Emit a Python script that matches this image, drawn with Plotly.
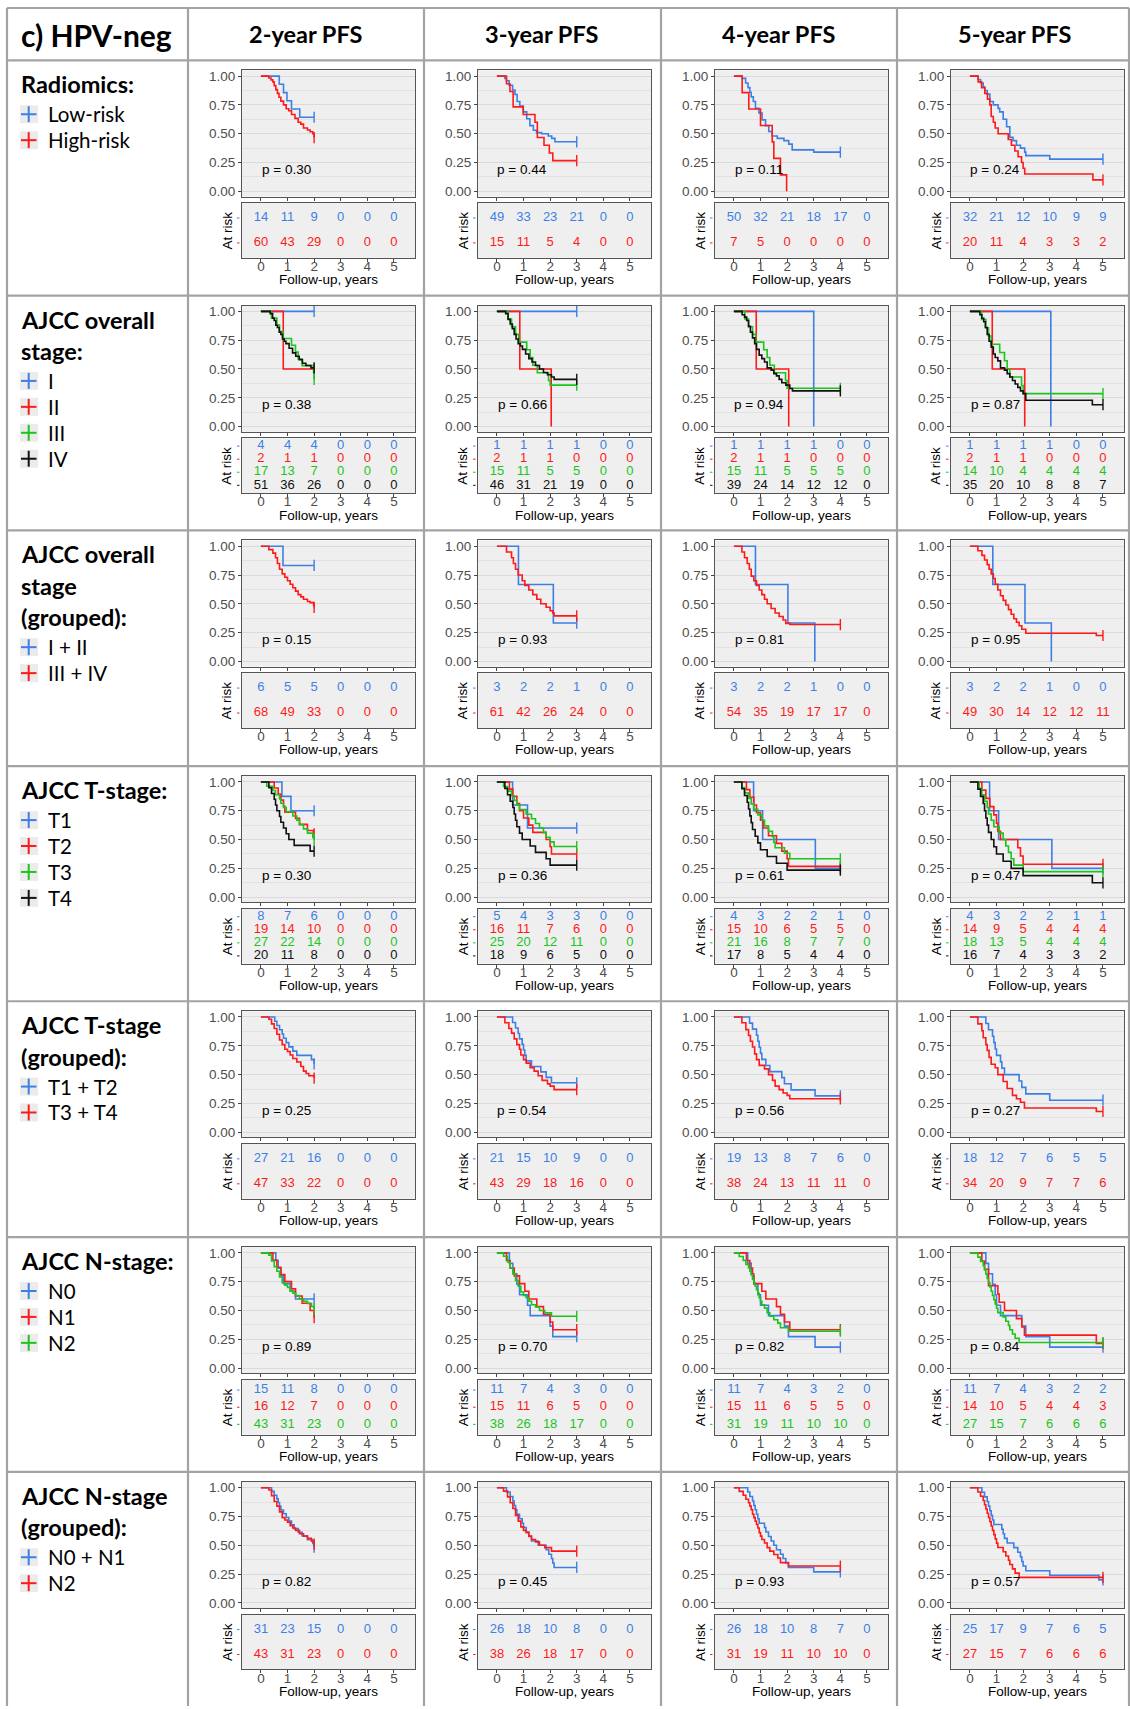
import plotly.graph_objects as go

W, H = 1130, 1709

# ---------------- DATA ----------------
# Kaplan-Meier step curves: (time in years, survival after the step)

# Row 1: Radiomics (Low-risk, High-risk)
rad_2y_low = [(0,1),(0.69,0.929),(0.85,0.857),(0.98,0.786),(1.15,0.714),(1.46,0.643),(2.0,0.643)]
rad_2y_high = [(0,1),(0.3,0.983),(0.38,0.967),(0.45,0.95),(0.5,0.917),(0.56,0.883),(0.62,0.85),(0.68,0.817),(0.75,0.783),(0.85,0.75),(0.95,0.717),(1.05,0.70),(1.15,0.667),(1.28,0.633),(1.4,0.60),(1.5,0.583),(1.6,0.55),(1.75,0.533),(1.85,0.517),(1.95,0.50),(2.0,0.467)]
rad_3y_low = [(0,1),(0.30,0.98),(0.36,0.96),(0.46,0.92),(0.59,0.88),(0.68,0.84),(0.76,0.78),(0.86,0.74),(0.99,0.69),(1.12,0.63),(1.24,0.57),(1.37,0.53),(1.49,0.51),(1.68,0.50),(1.93,0.48),(2.06,0.46),(2.18,0.43),(3.0,0.43)]
rad_3y_high = [(0,1),(0.36,0.933),(0.49,0.867),(0.61,0.733),(0.99,0.667),(1.43,0.60),(1.52,0.467),(1.77,0.40),(1.97,0.333),(2.1,0.267),(3.0,0.267)]
rad_4y_low = [(0,1),(0.31,0.98),(0.44,0.94),(0.53,0.90),(0.6,0.86),(0.65,0.82),(0.73,0.78),(0.81,0.72),(0.94,0.68),(1.06,0.62),(1.19,0.57),(1.31,0.52),(1.44,0.48),(1.63,0.46),(1.88,0.44),(2.06,0.41),(2.19,0.36),(3.0,0.34),(4.0,0.34)]
rad_4y_high = [(0,1),(0.31,0.857),(0.56,0.714),(1.0,0.571),(1.44,0.429),(1.5,0.286),(1.75,0.143),(1.98,0.0)]
rad_5y_low = [(0,1),(0.31,0.97),(0.4,0.94),(0.5,0.906),(0.56,0.875),(0.65,0.844),(0.75,0.78),(0.88,0.75),(1.06,0.72),(1.12,0.69),(1.25,0.625),(1.38,0.56),(1.5,0.47),(1.62,0.44),(1.75,0.40),(1.9,0.375),(2.06,0.34),(2.1,0.31),(3.0,0.28),(5.0,0.28)]
rad_5y_high = [(0,1),(0.31,0.95),(0.44,0.90),(0.56,0.85),(0.66,0.80),(0.75,0.75),(0.8,0.65),(0.88,0.60),(0.95,0.55),(1.06,0.50),(1.44,0.45),(1.56,0.40),(1.69,0.35),(1.81,0.30),(1.94,0.25),(2.0,0.20),(2.06,0.15),(4.62,0.10),(5.0,0.10)]

# Row 2: AJCC overall stage (I, II, III, IV)
os_2y_I = [(0,1),(2.0,1)]
os_2y_II = [(0,1),(0.84,0.5),(2.0,0.5)]
os_2y_III = [(0,1),(0.4,0.941),(0.6,0.882),(0.7,0.824),(0.84,0.765),(1.15,0.706),(1.3,0.647),(1.4,0.588),(1.55,0.529),(1.98,0.47),(2.0,0.41)]
os_2y_IV = [(0,1),(0.35,0.98),(0.44,0.94),(0.5,0.92),(0.56,0.88),(0.62,0.86),(0.69,0.82),(0.75,0.80),(0.81,0.76),(0.88,0.74),(0.94,0.72),(1.06,0.68),(1.19,0.64),(1.31,0.61),(1.44,0.58),(1.56,0.55),(1.69,0.53),(1.88,0.51),(2.0,0.51)]
os_3y_I = [(0,1),(3.0,1)]
os_3y_II = [(0,1),(0.86,0.5),(2.04,0.0)]
os_3y_III = [(0,1),(0.41,0.933),(0.55,0.867),(0.7,0.80),(0.82,0.733),(1.12,0.667),(1.25,0.60),(1.35,0.533),(1.52,0.467),(1.94,0.40),(2.0,0.36),(3.0,0.36)]
os_3y_IV = [(0,1),(0.33,0.98),(0.42,0.93),(0.5,0.89),(0.58,0.85),(0.65,0.80),(0.72,0.76),(0.8,0.72),(0.88,0.70),(0.96,0.67),(1.08,0.63),(1.2,0.59),(1.32,0.56),(1.45,0.53),(1.6,0.50),(1.75,0.47),(1.9,0.45),(2.05,0.43),(2.15,0.41),(3.0,0.41)]
os_4y_I = [(0,1),(3.0,0.0)]
os_4y_II = [(0,1),(0.84,0.5),(2.06,0.0)]
os_4y_III = [(0,1),(0.41,0.933),(0.55,0.867),(0.7,0.80),(0.82,0.733),(1.12,0.667),(1.25,0.60),(1.35,0.533),(1.52,0.467),(1.94,0.40),(2.0,0.333),(4.0,0.333)]
os_4y_IV = [(0,1),(0.31,0.97),(0.4,0.95),(0.48,0.92),(0.55,0.87),(0.62,0.82),(0.7,0.77),(0.78,0.72),(0.85,0.67),(0.95,0.62),(1.05,0.59),(1.15,0.56),(1.25,0.51),(1.4,0.49),(1.5,0.46),(1.6,0.44),(1.7,0.41),(1.8,0.38),(1.95,0.36),(2.1,0.33),(2.2,0.31),(4.0,0.31)]
os_5y_I = [(0,1),(3.04,0.0)]
os_5y_II = [(0,1),(0.84,0.5),(2.06,0.0)]
os_5y_III = [(0,1),(0.44,0.929),(0.6,0.857),(0.7,0.786),(0.8,0.714),(1.12,0.643),(1.3,0.571),(1.4,0.50),(1.5,0.43),(1.94,0.357),(2.0,0.286),(5.0,0.286)]
os_5y_IV = [(0,1),(0.375,0.97),(0.45,0.94),(0.52,0.91),(0.58,0.86),(0.65,0.80),(0.72,0.74),(0.8,0.69),(0.88,0.63),(0.95,0.60),(1.05,0.57),(1.15,0.51),(1.3,0.49),(1.4,0.46),(1.5,0.43),(1.6,0.40),(1.7,0.37),(1.8,0.34),(1.9,0.31),(2.0,0.286),(2.1,0.229),(4.6,0.19),(5.0,0.19)]

# Row 3: AJCC overall stage grouped (I + II, III + IV)
osg_2y_a = [(0,1),(0.83,0.833),(2.0,0.833)]
osg_2y_b = [(0,1),(0.3,0.97),(0.45,0.94),(0.55,0.90),(0.62,0.85),(0.7,0.80),(0.8,0.76),(0.9,0.73),(1.0,0.70),(1.1,0.67),(1.2,0.64),(1.3,0.61),(1.4,0.58),(1.5,0.56),(1.6,0.54),(1.75,0.52),(1.85,0.51),(1.98,0.49),(2.0,0.47)]
osg_3y_a = [(0,1),(0.81,0.667),(2.12,0.333),(3.0,0.333)]
osg_3y_b = [(0,1),(0.36,0.95),(0.55,0.90),(0.62,0.85),(0.7,0.80),(0.8,0.75),(0.95,0.70),(1.05,0.66),(1.2,0.62),(1.35,0.58),(1.5,0.54),(1.65,0.50),(1.85,0.47),(2.0,0.44),(2.1,0.42),(2.15,0.395),(3.0,0.395)]
osg_4y_a = [(0,1),(0.81,0.667),(2.03,0.333),(3.04,0.0)]
osg_4y_b = [(0,1),(0.3,0.95),(0.4,0.90),(0.5,0.85),(0.58,0.80),(0.65,0.74),(0.75,0.70),(0.85,0.66),(0.95,0.62),(1.05,0.58),(1.15,0.54),(1.25,0.50),(1.4,0.46),(1.55,0.42),(1.7,0.39),(1.85,0.36),(1.95,0.33),(2.1,0.32),(4.0,0.32)]
osg_5y_a = [(0,1),(0.86,0.667),(2.07,0.333),(3.06,0.0)]
osg_5y_b = [(0,1),(0.3,0.96),(0.45,0.92),(0.55,0.88),(0.65,0.84),(0.72,0.80),(0.8,0.76),(0.88,0.72),(0.95,0.67),(1.05,0.62),(1.15,0.57),(1.25,0.53),(1.35,0.49),(1.45,0.45),(1.55,0.41),(1.65,0.37),(1.75,0.34),(1.85,0.31),(1.95,0.28),(2.1,0.245),(4.75,0.225),(5.0,0.225)]

# Row 4: AJCC T-stage (T1, T2, T3, T4)
t_2y_T1 = [(0,1),(0.79,0.875),(1.13,0.75),(2.0,0.75)]
t_2y_T2 = [(0,1),(0.5,0.947),(0.65,0.895),(0.75,0.842),(0.85,0.789),(0.9,0.737),(1.3,0.684),(1.45,0.632),(1.75,0.579),(1.97,0.55),(2.0,0.55)]
t_2y_T3 = [(0,1),(0.22,0.963),(0.45,0.926),(0.55,0.889),(0.7,0.852),(0.75,0.815),(0.85,0.778),(0.95,0.741),(1.2,0.704),(1.35,0.667),(1.45,0.63),(1.6,0.593),(1.75,0.556),(1.95,0.519),(2.0,0.50)]
t_2y_T4 = [(0,1),(0.3,0.95),(0.4,0.90),(0.5,0.85),(0.55,0.80),(0.6,0.75),(0.7,0.70),(0.75,0.65),(0.85,0.60),(0.95,0.55),(1.05,0.50),(1.25,0.45),(1.85,0.40),(2.0,0.40)]
t_3y_T1 = [(0,1),(0.59,0.8),(1.15,0.6),(3.0,0.6)]
t_3y_T2 = [(0,1),(0.47,0.9375),(0.6,0.875),(0.75,0.8125),(0.85,0.75),(1.0,0.6875),(1.2,0.625),(1.35,0.5625),(1.85,0.50),(2.0,0.4375),(2.05,0.375),(3.0,0.375)]
t_3y_T3 = [(0,1),(0.25,0.96),(0.4,0.92),(0.55,0.88),(0.65,0.84),(0.75,0.80),(0.85,0.76),(1.1,0.72),(1.3,0.68),(1.45,0.64),(1.6,0.60),(1.75,0.56),(1.85,0.52),(2.0,0.48),(2.15,0.44),(3.0,0.44)]
t_3y_T4 = [(0,1),(0.3,0.944),(0.4,0.889),(0.5,0.833),(0.6,0.778),(0.65,0.722),(0.7,0.667),(0.75,0.611),(0.85,0.556),(0.95,0.50),(1.25,0.444),(1.45,0.389),(1.85,0.333),(2.0,0.278),(3.0,0.278)]
t_4y_T1 = [(0,1),(0.74,0.75),(1.08,0.5),(3.06,0.25),(4.0,0.25)]
t_4y_T2 = [(0,1),(0.47,0.933),(0.6,0.867),(0.75,0.80),(0.85,0.733),(1.0,0.667),(1.1,0.60),(1.3,0.533),(1.6,0.467),(1.8,0.40),(2.0,0.333),(2.05,0.267),(4.0,0.267)]
t_4y_T3 = [(0,1),(0.3,0.952),(0.4,0.905),(0.55,0.857),(0.65,0.81),(0.75,0.762),(0.9,0.714),(1.05,0.667),(1.15,0.619),(1.3,0.571),(1.45,0.524),(1.5,0.476),(1.55,0.429),(1.9,0.381),(2.1,0.333),(4.0,0.333)]
t_4y_T4 = [(0,1),(0.3,0.941),(0.4,0.882),(0.5,0.824),(0.55,0.765),(0.6,0.706),(0.65,0.647),(0.7,0.588),(0.8,0.529),(0.9,0.471),(1.0,0.412),(1.25,0.353),(1.6,0.294),(2.0,0.235),(4.0,0.235)]
t_5y_T1 = [(0,1),(0.74,0.75),(1.08,0.5),(3.08,0.25),(5.0,0.25)]
t_5y_T2 = [(0,1),(0.45,0.929),(0.6,0.857),(0.75,0.786),(0.9,0.714),(1.0,0.643),(1.05,0.571),(1.15,0.50),(1.8,0.429),(1.9,0.357),(2.0,0.286),(5.0,0.286)]
t_5y_T3 = [(0,1),(0.35,0.944),(0.45,0.889),(0.55,0.833),(0.65,0.778),(0.7,0.722),(0.8,0.667),(0.9,0.611),(1.1,0.556),(1.25,0.50),(1.35,0.444),(1.45,0.389),(1.55,0.333),(1.65,0.278),(2.0,0.222),(5.0,0.222)]
t_5y_T4 = [(0,1),(0.3,0.9375),(0.4,0.875),(0.5,0.8125),(0.55,0.75),(0.6,0.6875),(0.65,0.625),(0.7,0.5625),(0.8,0.50),(0.9,0.4375),(1.0,0.375),(1.25,0.3125),(1.55,0.25),(2.0,0.1875),(4.6,0.125),(5.0,0.125)]

# Row 5: AJCC T-stage grouped (T1 + T2, T3 + T4)
tg_2y_a = [(0,1),(0.52,0.963),(0.6,0.926),(0.7,0.889),(0.8,0.852),(0.85,0.815),(0.95,0.778),(1.05,0.741),(1.2,0.704),(1.35,0.667),(1.9,0.63),(2.0,0.593)]
tg_2y_b = [(0,1),(0.3,0.98),(0.4,0.94),(0.5,0.90),(0.6,0.85),(0.7,0.80),(0.8,0.76),(0.9,0.72),(1.0,0.70),(1.1,0.67),(1.2,0.64),(1.35,0.61),(1.5,0.57),(1.6,0.53),(1.7,0.51),(1.8,0.49),(2.0,0.47)]
tg_3y_a = [(0,1),(0.59,0.952),(0.7,0.905),(0.8,0.857),(0.85,0.81),(0.95,0.762),(1.0,0.714),(1.05,0.667),(1.1,0.619),(1.3,0.571),(1.65,0.524),(1.85,0.476),(2.05,0.429),(3.0,0.429)]
tg_3y_b = [(0,1),(0.3,0.95),(0.45,0.90),(0.55,0.86),(0.65,0.81),(0.75,0.76),(0.85,0.72),(0.9,0.67),(1.0,0.63),(1.1,0.60),(1.25,0.56),(1.4,0.53),(1.55,0.49),(1.7,0.45),(1.9,0.42),(2.0,0.40),(2.15,0.37),(3.0,0.37)]
tg_4y_a = [(0,1),(0.59,0.947),(0.7,0.895),(0.85,0.842),(0.9,0.789),(0.95,0.737),(1.0,0.684),(1.05,0.632),(1.2,0.579),(1.35,0.526),(1.8,0.474),(1.9,0.421),(2.15,0.368),(3.05,0.316),(4.0,0.316)]
tg_4y_b = [(0,1),(0.3,0.95),(0.45,0.89),(0.55,0.84),(0.62,0.79),(0.7,0.74),(0.78,0.68),(0.85,0.63),(0.95,0.58),(1.15,0.55),(1.3,0.50),(1.45,0.45),(1.55,0.40),(1.7,0.37),(1.85,0.34),(2.0,0.32),(2.1,0.29),(4.0,0.29)]
tg_5y_a = [(0,1),(0.6,0.944),(0.7,0.889),(0.85,0.833),(0.9,0.778),(0.95,0.722),(1.0,0.667),(1.15,0.611),(1.2,0.556),(1.3,0.50),(1.85,0.444),(1.95,0.389),(2.1,0.333),(3.0,0.278),(5.0,0.278)]
tg_5y_b = [(0,1),(0.3,0.94),(0.45,0.88),(0.5,0.82),(0.6,0.76),(0.65,0.71),(0.72,0.65),(0.8,0.59),(0.95,0.56),(1.05,0.50),(1.25,0.44),(1.4,0.38),(1.6,0.32),(1.75,0.29),(1.9,0.26),(2.05,0.21),(4.75,0.18),(5.0,0.18)]

# Row 6: AJCC N-stage (N0, N1, N2)
n_2y_N0 = [(0,1),(0.56,0.933),(0.65,0.867),(0.75,0.80),(0.85,0.733),(1.1,0.667),(1.3,0.60),(2.0,0.60)]
n_2y_N1 = [(0,1),(0.45,0.9375),(0.6,0.875),(0.75,0.8125),(0.9,0.75),(1.15,0.6875),(1.3,0.625),(1.55,0.5625),(1.85,0.50),(2.0,0.4375)]
n_2y_N2 = [(0,1),(0.3,0.98),(0.4,0.93),(0.5,0.88),(0.6,0.84),(0.7,0.79),(0.8,0.74),(0.9,0.72),(1.0,0.70),(1.1,0.67),(1.2,0.65),(1.3,0.63),(1.45,0.60),(1.6,0.58),(1.75,0.56),(1.9,0.535),(2.0,0.51)]
n_3y_N0 = [(0,1),(0.47,0.909),(0.6,0.818),(0.75,0.727),(0.85,0.636),(1.15,0.545),(1.25,0.455),(2.0,0.364),(2.1,0.273),(3.0,0.273)]
n_3y_N1 = [(0,1),(0.36,0.933),(0.5,0.867),(0.65,0.80),(0.85,0.733),(1.05,0.667),(1.2,0.60),(1.5,0.533),(1.75,0.467),(2.0,0.40),(2.1,0.333),(3.0,0.333)]
n_3y_N2 = [(0,1),(0.25,0.97),(0.4,0.92),(0.5,0.87),(0.6,0.82),(0.7,0.76),(0.8,0.71),(0.9,0.66),(1.0,0.63),(1.1,0.61),(1.2,0.58),(1.3,0.55),(1.45,0.53),(1.6,0.50),(1.8,0.48),(2.05,0.45),(3.0,0.45)]
n_4y_N0 = [(0,1),(0.52,0.909),(0.65,0.818),(0.75,0.727),(0.9,0.636),(1.0,0.545),(1.3,0.455),(1.9,0.364),(2.05,0.273),(3.05,0.182),(4.0,0.182)]
n_4y_N1 = [(0,1),(0.47,0.933),(0.6,0.867),(0.7,0.80),(0.75,0.733),(1.05,0.667),(1.2,0.60),(1.6,0.533),(1.75,0.467),(1.9,0.40),(2.1,0.333),(4.0,0.333)]
n_4y_N2 = [(0,1),(0.2,0.968),(0.35,0.935),(0.45,0.90),(0.55,0.87),(0.6,0.84),(0.65,0.81),(0.7,0.77),(0.75,0.74),(0.8,0.71),(0.85,0.68),(0.9,0.65),(0.95,0.61),(1.0,0.58),(1.05,0.55),(1.15,0.52),(1.25,0.48),(1.35,0.45),(1.5,0.42),(1.65,0.39),(1.75,0.35),(2.05,0.32),(4.0,0.32)]
n_5y_N0 = [(0,1),(0.6,0.909),(0.7,0.818),(0.85,0.727),(0.95,0.636),(1.0,0.545),(1.15,0.455),(1.95,0.364),(2.1,0.273),(3.0,0.182),(5.0,0.182)]
n_5y_N1 = [(0,1),(0.45,0.929),(0.55,0.857),(0.7,0.714),(1.05,0.643),(1.1,0.571),(1.3,0.50),(1.75,0.429),(1.95,0.357),(2.05,0.286),(4.75,0.214),(5.0,0.214)]
n_5y_N2 = [(0,1),(0.3,0.963),(0.4,0.926),(0.5,0.889),(0.55,0.852),(0.6,0.815),(0.65,0.778),(0.7,0.741),(0.75,0.704),(0.8,0.667),(0.85,0.63),(0.9,0.593),(0.95,0.556),(1.0,0.519),(1.05,0.481),(1.25,0.444),(1.35,0.407),(1.45,0.37),(1.5,0.333),(1.6,0.296),(1.7,0.259),(1.85,0.222),(5.0,0.222)]

# Row 7: AJCC N-stage grouped (N0 + N1, N2)
ng_2y_a = [(0,1),(0.4,0.968),(0.5,0.935),(0.6,0.903),(0.65,0.871),(0.7,0.839),(0.75,0.806),(0.85,0.774),(0.95,0.742),(1.05,0.71),(1.15,0.677),(1.25,0.645),(1.4,0.613),(1.55,0.581),(1.75,0.548),(1.95,0.516),(2.0,0.484)]
ng_2y_b = [(0,1),(0.3,0.98),(0.4,0.93),(0.5,0.88),(0.6,0.84),(0.7,0.79),(0.8,0.74),(0.9,0.72),(1.0,0.70),(1.1,0.67),(1.2,0.65),(1.3,0.63),(1.45,0.60),(1.6,0.58),(1.75,0.56),(1.9,0.535),(2.0,0.51)]
ng_3y_a = [(0,1),(0.36,0.962),(0.5,0.923),(0.6,0.885),(0.65,0.846),(0.7,0.808),(0.75,0.769),(0.85,0.731),(0.95,0.692),(1.0,0.654),(1.1,0.615),(1.2,0.577),(1.3,0.538),(1.55,0.50),(1.85,0.462),(1.95,0.423),(2.05,0.385),(2.1,0.346),(2.15,0.308),(3.0,0.308)]
ng_3y_b = [(0,1),(0.25,0.97),(0.4,0.92),(0.5,0.87),(0.6,0.82),(0.7,0.76),(0.8,0.71),(0.9,0.66),(1.0,0.63),(1.1,0.61),(1.2,0.58),(1.3,0.55),(1.45,0.53),(1.6,0.50),(1.8,0.48),(2.05,0.45),(3.0,0.45)]
ng_4y_a = [(0,1),(0.52,0.962),(0.6,0.923),(0.7,0.885),(0.75,0.846),(0.8,0.808),(0.85,0.769),(0.9,0.731),(0.95,0.692),(1.15,0.654),(1.2,0.615),(1.3,0.577),(1.4,0.538),(1.5,0.50),(1.6,0.462),(1.75,0.423),(1.85,0.385),(1.95,0.346),(2.05,0.308),(3.0,0.27),(4.0,0.27)]
ng_4y_b = [(0,1),(0.2,0.968),(0.35,0.935),(0.45,0.90),(0.55,0.87),(0.6,0.84),(0.65,0.81),(0.7,0.77),(0.75,0.74),(0.8,0.71),(0.85,0.68),(0.9,0.65),(0.95,0.61),(1.0,0.58),(1.05,0.55),(1.15,0.52),(1.25,0.48),(1.35,0.45),(1.5,0.42),(1.65,0.39),(1.75,0.35),(2.05,0.32),(4.0,0.32)]
ng_5y_a = [(0,1),(0.45,0.96),(0.55,0.92),(0.65,0.88),(0.7,0.84),(0.75,0.80),(0.8,0.76),(0.85,0.72),(0.9,0.68),(1.2,0.64),(1.25,0.60),(1.3,0.56),(1.4,0.52),(1.65,0.48),(1.8,0.44),(1.9,0.40),(1.95,0.36),(2.0,0.32),(2.1,0.28),(3.0,0.24),(4.85,0.20),(5.0,0.20)]
ng_5y_b = [(0,1),(0.3,0.963),(0.4,0.926),(0.5,0.889),(0.55,0.852),(0.6,0.815),(0.65,0.778),(0.7,0.741),(0.75,0.704),(0.8,0.667),(0.85,0.63),(0.9,0.593),(0.95,0.556),(1.0,0.519),(1.05,0.481),(1.25,0.444),(1.35,0.407),(1.45,0.37),(1.5,0.333),(1.6,0.296),(1.7,0.259),(1.85,0.222),(5.0,0.222)]

# Numbers at risk (rows = groups, columns = years 0..5)
risk_rad = [[[14,11,9,0,0,0],[60,43,29,0,0,0]],
            [[49,33,23,21,0,0],[15,11,5,4,0,0]],
            [[50,32,21,18,17,0],[7,5,0,0,0,0]],
            [[32,21,12,10,9,9],[20,11,4,3,3,2]]]
risk_os = [[[4,4,4,0,0,0],[2,1,1,0,0,0],[17,13,7,0,0,0],[51,36,26,0,0,0]],
           [[1,1,1,1,0,0],[2,1,1,0,0,0],[15,11,5,5,0,0],[46,31,21,19,0,0]],
           [[1,1,1,1,0,0],[2,1,1,0,0,0],[15,11,5,5,5,0],[39,24,14,12,12,0]],
           [[1,1,1,1,0,0],[2,1,1,0,0,0],[14,10,4,4,4,4],[35,20,10,8,8,7]]]
risk_osg = [[[6,5,5,0,0,0],[68,49,33,0,0,0]],
            [[3,2,2,1,0,0],[61,42,26,24,0,0]],
            [[3,2,2,1,0,0],[54,35,19,17,17,0]],
            [[3,2,2,1,0,0],[49,30,14,12,12,11]]]
risk_t = [[[8,7,6,0,0,0],[19,14,10,0,0,0],[27,22,14,0,0,0],[20,11,8,0,0,0]],
          [[5,4,3,3,0,0],[16,11,7,6,0,0],[25,20,12,11,0,0],[18,9,6,5,0,0]],
          [[4,3,2,2,1,0],[15,10,6,5,5,0],[21,16,8,7,7,0],[17,8,5,4,4,0]],
          [[4,3,2,2,1,1],[14,9,5,4,4,4],[18,13,5,4,4,4],[16,7,4,3,3,2]]]
risk_tg = [[[27,21,16,0,0,0],[47,33,22,0,0,0]],
           [[21,15,10,9,0,0],[43,29,18,16,0,0]],
           [[19,13,8,7,6,0],[38,24,13,11,11,0]],
           [[18,12,7,6,5,5],[34,20,9,7,7,6]]]
risk_n = [[[15,11,8,0,0,0],[16,12,7,0,0,0],[43,31,23,0,0,0]],
          [[11,7,4,3,0,0],[15,11,6,5,0,0],[38,26,18,17,0,0]],
          [[11,7,4,3,2,0],[15,11,6,5,5,0],[31,19,11,10,10,0]],
          [[11,7,4,3,2,2],[14,10,5,4,4,3],[27,15,7,6,6,6]]]
risk_ng = [[[31,23,15,0,0,0],[43,31,23,0,0,0]],
           [[26,18,10,8,0,0],[38,26,18,17,0,0]],
           [[26,18,10,8,7,0],[31,19,11,10,10,0]],
           [[25,17,9,7,6,5],[27,15,7,6,6,6]]]

# p-values (log-rank)
p_rad = ["0.30", "0.44", "0.11", "0.24"]
p_os = ["0.38", "0.66", "0.94", "0.87"]
p_osg = ["0.15", "0.93", "0.81", "0.95"]
p_t = ["0.30", "0.36", "0.61", "0.47"]
p_tg = ["0.25", "0.54", "0.56", "0.27"]
p_n = ["0.89", "0.70", "0.82", "0.84"]
p_ng = ["0.82", "0.45", "0.93", "0.57"]

years = [0, 1, 2, 3, 4, 5]
col_titles = ["2-year PFS", "3-year PFS", "4-year PFS", "5-year PFS"]
row_labels = [["Radiomics:"], ["AJCC overall", "stage:"], ["AJCC overall", "stage", "(grouped):"],
              ["AJCC T-stage:"], ["AJCC T-stage", "(grouped):"], ["AJCC N-stage:"], ["AJCC N-stage", "(grouped):"]]
row_groups = [["Low-risk", "High-risk"], ["I", "II", "III", "IV"], ["I + II", "III + IV"],
              ["T1", "T2", "T3", "T4"], ["T1 + T2", "T3 + T4"], ["N0", "N1", "N2"], ["N0 + N1", "N2"]]

curves = [
    [[rad_2y_low, rad_2y_high], [rad_3y_low, rad_3y_high], [rad_4y_low, rad_4y_high], [rad_5y_low, rad_5y_high]],
    [[os_2y_I, os_2y_II, os_2y_III, os_2y_IV], [os_3y_I, os_3y_II, os_3y_III, os_3y_IV],
     [os_4y_I, os_4y_II, os_4y_III, os_4y_IV], [os_5y_I, os_5y_II, os_5y_III, os_5y_IV]],
    [[osg_2y_a, osg_2y_b], [osg_3y_a, osg_3y_b], [osg_4y_a, osg_4y_b], [osg_5y_a, osg_5y_b]],
    [[t_2y_T1, t_2y_T2, t_2y_T3, t_2y_T4], [t_3y_T1, t_3y_T2, t_3y_T3, t_3y_T4],
     [t_4y_T1, t_4y_T2, t_4y_T3, t_4y_T4], [t_5y_T1, t_5y_T2, t_5y_T3, t_5y_T4]],
    [[tg_2y_a, tg_2y_b], [tg_3y_a, tg_3y_b], [tg_4y_a, tg_4y_b], [tg_5y_a, tg_5y_b]],
    [[n_2y_N0, n_2y_N1, n_2y_N2], [n_3y_N0, n_3y_N1, n_3y_N2], [n_4y_N0, n_4y_N1, n_4y_N2], [n_5y_N0, n_5y_N1, n_5y_N2]],
    [[ng_2y_a, ng_2y_b], [ng_3y_a, ng_3y_b], [ng_4y_a, ng_4y_b], [ng_5y_a, ng_5y_b]],
]
risks = [risk_rad, risk_os, risk_osg, risk_t, risk_tg, risk_n, risk_ng]
pvals = [p_rad, p_os, p_osg, p_t, p_tg, p_n, p_ng]

# ---------------- STYLE / GEOMETRY ----------------
GROUP_COLORS = ["#3D7FE6", "#FF1A1A", "#1DC41D", "#111111"]
GRID_COL = "#A3A3A3"
FONT_TICK = "Liberation Sans, Arial, sans-serif"
FONT_LBL = "Lato, Carlito, Calibri, sans-serif"
ROW_TOPS = [59.5, 295.3, 530.7, 767.0, 1002.6, 1239.0, 1474.4]
COL_LEFTS = [188, 424, 661, 897]
XR = [-0.71, 5.79]
YR = [-0.045, 1.05]


def px(x):
    return x / W


def py(y):
    return 1 - y / H


fig = go.Figure()
layout = {}
annotations = []
shapes = []

for r in range(7):
    T = ROW_TOPS[r]
    for c in range(4):
        L = COL_LEFTS[c]
        k = r * 4 + c
        a, b = 2 * k + 1, 2 * k + 2
        xa, ya = ("x" if a == 1 else f"x{a}"), ("y" if a == 1 else f"y{a}")
        xb, yb = f"x{b}", f"y{b}"
        xdom = [px(L + 54), px(L + 227)]
        ng = len(curves[r][c])
        common_x = dict(domain=xdom, range=XR, tickvals=years, ticks="outside", ticklen=3,
                        tickcolor="#444", showline=True, mirror=True, linecolor="#555",
                        linewidth=1, showgrid=False, zeroline=False, fixedrange=True)
        layout["xaxis" if a == 1 else f"xaxis{a}"] = dict(common_x, anchor=ya, showticklabels=False)
        layout[f"xaxis{b}"] = dict(common_x, anchor=yb, showticklabels=True, ticklabelstandoff=-7,
                                   tickfont=dict(family=FONT_TICK, size=13.5, color="#4D4D4D"))
        layout["yaxis" if a == 1 else f"yaxis{a}"] = dict(
            domain=[py(T + 136.5), py(T + 10)], range=YR, anchor=xa,
            tickvals=[0, 0.25, 0.5, 0.75, 1.0], ticktext=["0.00", "0.25", "0.50", "0.75", "1.00"],
            ticks="outside", ticklen=3, tickcolor="#444",
            tickfont=dict(family=FONT_TICK, size=13.5, color="#4D4D4D"),
            showline=True, mirror=True, linecolor="#555", linewidth=1,
            showgrid=True, gridcolor="#DADADA", gridwidth=1, zeroline=False,
            minor=dict(tickvals=[0.125, 0.375, 0.625, 0.875], showgrid=True, gridcolor="#E2E2E2", gridwidth=1),
            fixedrange=True)
        layout[f"yaxis{b}"] = dict(domain=[py(T + 198), py(T + 143)], range=[ng + 0.6, 0.4], anchor=xb,
                                   showticklabels=False, ticks="", showline=True, mirror=True,
                                   linecolor="#555", linewidth=1, showgrid=False, zeroline=False,
                                   fixedrange=True)
        # KM curves
        for g, crv in enumerate(curves[r][c]):
            col = GROUP_COLORS[g]
            ts = [p[0] for p in crv]
            ss = [p[1] for p in crv]
            fig.add_trace(go.Scatter(x=ts, y=ss, mode="lines", xaxis=xa, yaxis=ya,
                                     line=dict(color=col, width=1.6, shape="hv"),
                                     hoverinfo="skip", showlegend=False))
            if ss[-1] > 0:
                fig.add_trace(go.Scatter(x=[ts[-1]], y=[ss[-1]], mode="markers", xaxis=xa, yaxis=ya,
                                         marker=dict(symbol="line-ns-open", size=8, color=col,
                                                     line=dict(color=col, width=1.4)),
                                         hoverinfo="skip", showlegend=False))
        # risk table
        for g, row in enumerate(risks[r][c]):
            col = GROUP_COLORS[g]
            fig.add_trace(go.Scatter(x=years, y=[g + 1] * 6, mode="text", text=[str(v) for v in row],
                                     textfont=dict(family=FONT_TICK, size=13, color=col),
                                     xaxis=xb, yaxis=yb, hoverinfo="skip", showlegend=False))
            shapes.append(dict(type="line", xref="paper", yref=yb, x0=px(L + 49), x1=px(L + 51.5),
                               y0=g + 1, y1=g + 1, line=dict(color=col, width=1)))
        # p-value
        annotations.append(dict(text=f"p = {pvals[r][c]}", xref=xa, yref=ya, x=0.96, y=0.19,
                                showarrow=False, xanchor="center", yanchor="middle",
                                font=dict(family=FONT_TICK, size=13.5, color="#000")))
        # At risk
        annotations.append(dict(text="At risk", xref="paper", yref="paper", x=px(L + 39),
                                y=py(T + 170.5), textangle=-90, showarrow=False,
                                xanchor="center", yanchor="middle",
                                font=dict(family=FONT_TICK, size=13.5, color="#000")))
        # x title
        annotations.append(dict(text="Follow-up, years", xref="paper", yref="paper", x=px(L + 140.5),
                                y=py(T + 220), showarrow=False, xanchor="center", yanchor="middle",
                                font=dict(family=FONT_TICK, size=13.5, color="#000")))

# ---- table headers and row labels ----
annotations.append(dict(text="<b>c) HPV-neg</b>", xref="paper", yref="paper", x=px(19), y=py(34),
                        xanchor="left", yanchor="middle", showarrow=False,
                        font=dict(family=FONT_LBL, size=30, color="#000")))
for c in range(4):
    L = COL_LEFTS[c]
    annotations.append(dict(text=f"<b>{col_titles[c]}</b>", xref="paper", yref="paper",
                            x=px(L + 118), y=py(33.5), xanchor="center", yanchor="middle",
                            showarrow=False, font=dict(family=FONT_LBL, size=23.5, color="#000")))

for r in range(7):
    T = ROW_TOPS[r]
    yy = T + 24
    for i, line in enumerate(row_labels[r]):
        yy = T + 24 + 31.5 * i
        annotations.append(dict(text=f"<b>{line}</b>", xref="paper", yref="paper", x=px(19), y=py(yy),
                                xanchor="left", yanchor="middle", showarrow=False,
                                font=dict(family=FONT_LBL, size=23.5, color="#000")))
    ly = yy + 30
    for g, name in enumerate(row_groups[r]):
        cy = ly + 26 * g
        col = GROUP_COLORS[g]
        shapes.append(dict(type="rect", xref="paper", yref="paper", x0=px(20), x1=px(38),
                           y0=py(cy - 9), y1=py(cy + 9), fillcolor="#EBEBEB", line=dict(width=0)))
        shapes.append(dict(type="line", xref="paper", yref="paper", x0=px(21), x1=px(36.5),
                           y0=py(cy), y1=py(cy), line=dict(color=col, width=2)))
        shapes.append(dict(type="line", xref="paper", yref="paper", x0=px(28.7), x1=px(28.7),
                           y0=py(cy - 8), y1=py(cy + 8), line=dict(color=col, width=2)))
        annotations.append(dict(text=name, xref="paper", yref="paper", x=px(46), y=py(cy),
                                xanchor="left", yanchor="middle", showarrow=False,
                                font=dict(family=FONT_LBL, size=20.5, color="#000")))

# ---- table grid lines ----
for x in [7, 188, 424, 661, 897, 1129]:
    shapes.append(dict(type="line", xref="paper", yref="paper", x0=px(x), x1=px(x), y0=py(7), y1=py(1709),
                       line=dict(color=GRID_COL, width=2.2)))
for y in [7] + ROW_TOPS:
    shapes.append(dict(type="line", xref="paper", yref="paper", x0=px(7), x1=px(1129), y0=py(y), y1=py(y),
                       line=dict(color=GRID_COL, width=2.2)))

layout.update(dict(width=W, height=H, margin=dict(l=0, r=0, t=0, b=0), paper_bgcolor="white",
                   plot_bgcolor="#EFEFEF", showlegend=False, annotations=annotations, shapes=shapes))
fig.update_layout(**layout)
fig.write_html("out.html", config={"displayModeBar": False, "staticPlot": True},
               post_script="document.body.style.margin='0px';document.documentElement.style.overflow='hidden';")
